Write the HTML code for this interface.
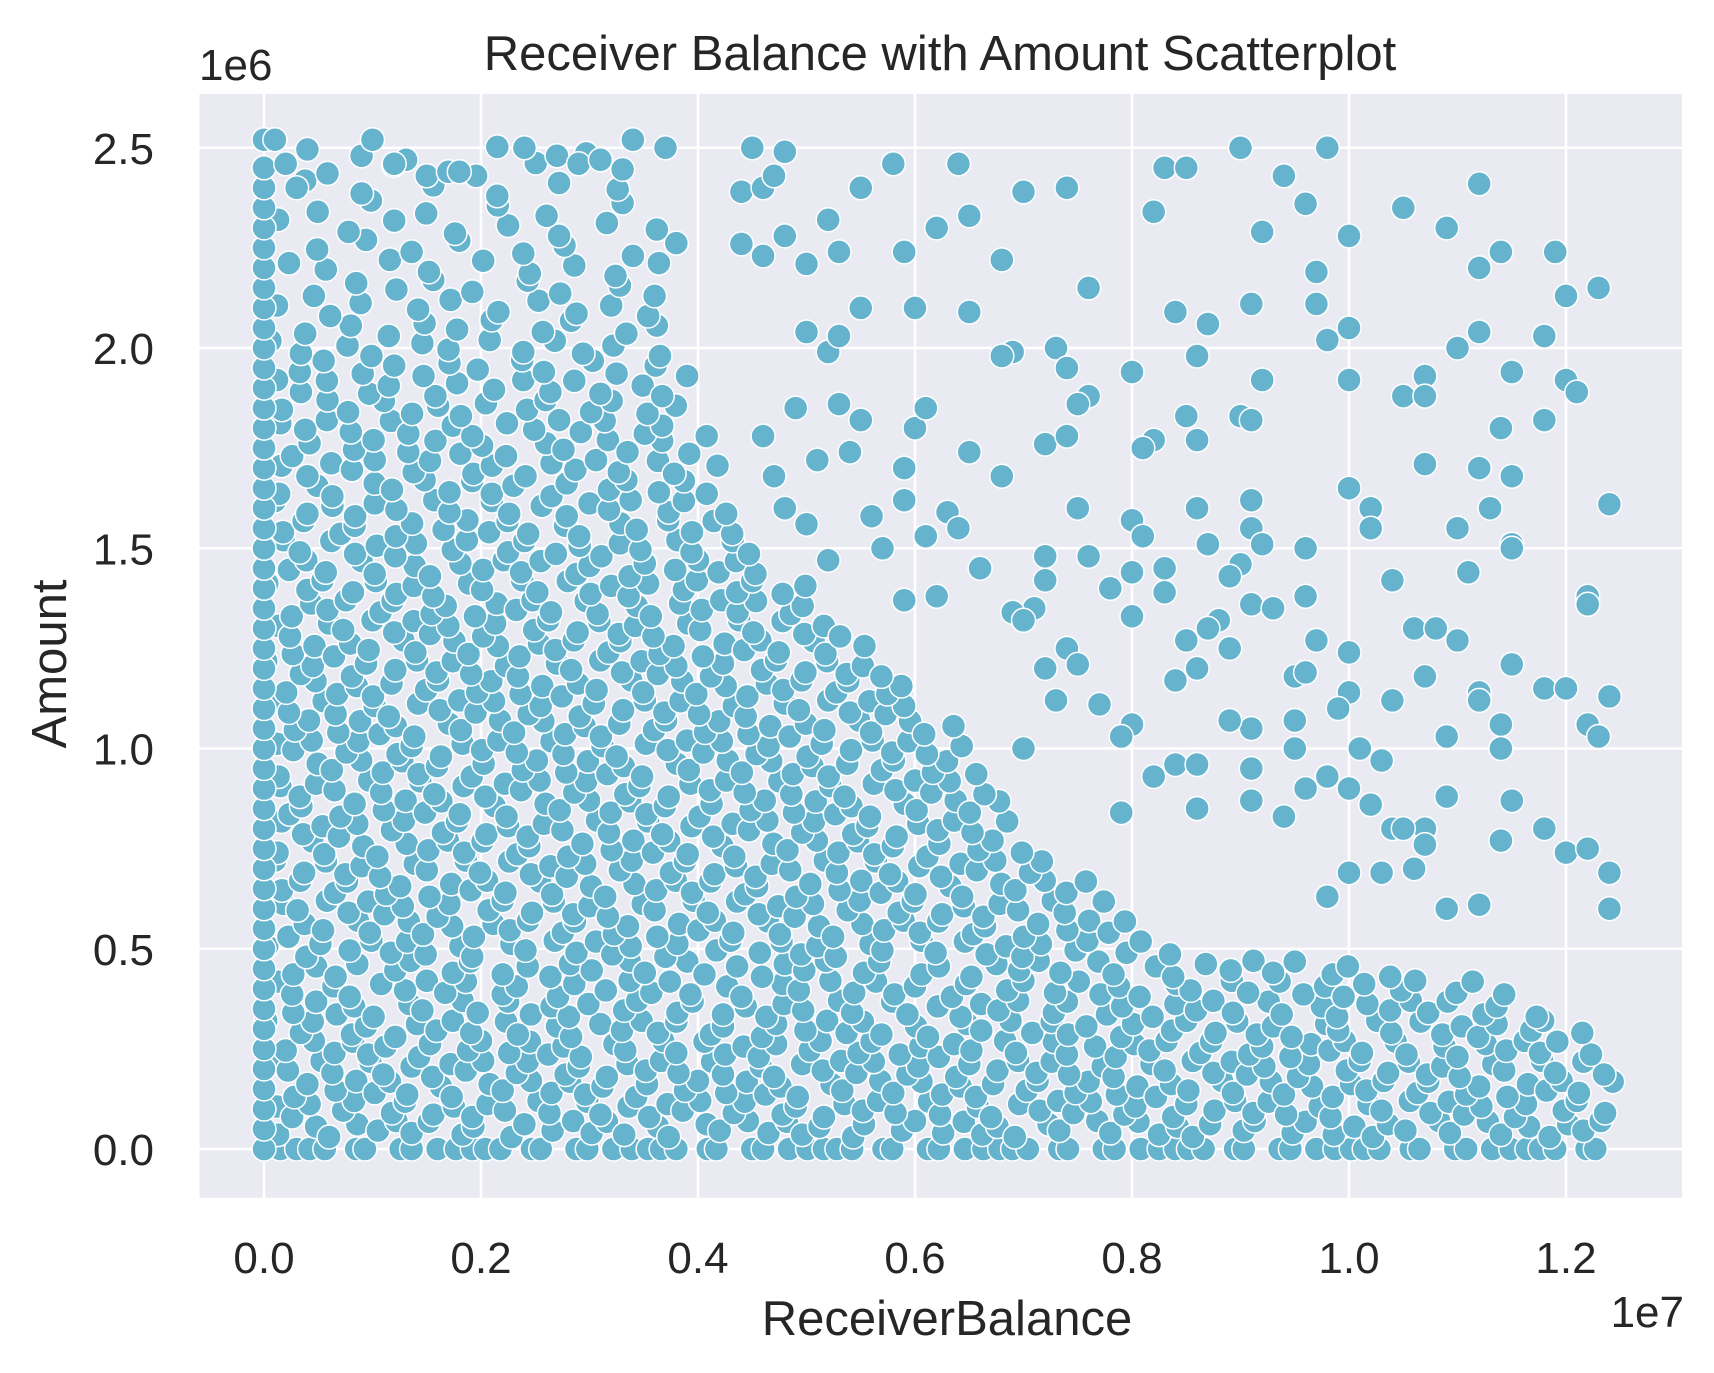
<!DOCTYPE html>
<html><head><meta charset="utf-8"><style>
html,body{margin:0;padding:0;background:#fff;}
svg{display:block;font-family:"Liberation Sans",Arial,sans-serif;}
</style></head><body>
<svg id="chart" width="1714" height="1373" viewBox="0 0 1714 1373" xmlns="http://www.w3.org/2000/svg">
<rect x="199.5" y="94" width="1482.5" height="1103.7" fill="#eaeaf2"/>
<g id="grid"></g>
<g id="points"></g>
<g id="ticks" fill="#262626" font-size="44"></g>
<text x="940" y="70" text-anchor="middle" font-size="49" fill="#262626">Receiver Balance with Amount Scatterplot</text>
<text x="947" y="1335" text-anchor="middle" font-size="49" fill="#262626">ReceiverBalance</text>
<text x="66" y="664" text-anchor="middle" font-size="49" fill="#262626" transform="rotate(-90 66 664)">Amount</text>
<text x="199" y="80" font-size="44" fill="#262626">1e6</text>
<text x="1684" y="1327" text-anchor="end" font-size="44" fill="#262626">1e7</text>
</svg>
<script>
// data in units of 1e6
const xTicks = [0, 0.2, 0.4, 0.6, 0.8, 1.0, 1.2];
const xTickLabels = ["0.0","0.2","0.4","0.6","0.8","1.0","1.2"];
const yTicks = [0, 0.5, 1.0, 1.5, 2.0, 2.5];
const yTickLabels = ["0.0","0.5","1.0","1.5","2.0","2.5"];
// dense cloud rows: [amount, balanceStart, balanceEnd, spacing]
const cloudRows = [
[0.0,0.1,12.5,0.18],[0.05,0.1,12.4,0.2],[0.1,0.1,12.4,0.2],[0.15,0.1,12.4,0.2],[0.2,0.1,12.3,0.2],
[0.25,0.1,12.2,0.2],[0.3,0.1,12.1,0.21],[0.35,0.1,11.8,0.22],[0.4,0.1,11.5,0.23],[0.45,0.1,10.5,0.24],
[0.5,0.1,8.4,0.21],[0.55,0.1,8.0,0.21],[0.6,0.1,7.8,0.21],[0.65,0.1,7.6,0.21],
[0.7,0.1,7.3,0.21],[0.75,0.1,7.1,0.21],[0.8,0.1,7.0,0.21],[0.85,0.1,6.9,0.21],[0.9,0.1,6.8,0.21],
[0.95,0.1,6.6,0.21],[1.0,0.1,6.5,0.21],[1.05,0.1,6.3,0.21],[1.1,0.1,6.1,0.21],
[1.15,0.1,6.0,0.21],[1.2,0.1,5.8,0.21],[1.25,0.1,5.6,0.21],[1.3,0.1,5.4,0.21],
[1.35,0.1,5.2,0.21],[1.4,0.1,5.0,0.22],[1.45,0.1,4.8,0.22],
[1.5,0.1,4.6,0.23],[1.55,0.1,4.5,0.23],[1.6,0.1,4.4,0.24],[1.65,0.1,4.3,0.24],
[1.7,0.1,4.2,0.25],[1.75,0.1,4.1,0.26],[1.8,0.1,4.0,0.26],[1.85,0.1,3.95,0.27],
[1.9,0.1,3.9,0.28],[1.95,0.1,3.9,0.3],[2.0,0.1,3.9,0.32],
[2.05,0.2,3.9,0.36],[2.1,0.2,3.9,0.38],[2.15,0.2,3.8,0.4],[2.2,0.2,3.8,0.44],
[2.25,0.2,3.8,0.48],[2.3,0.2,3.7,0.5],[2.35,0.2,3.7,0.55],
[2.4,0.3,3.6,0.6],[2.45,0.3,3.5,0.65],[2.49,0.4,3.5,0.85]
];
// points at zero balance
const zeroBalanceAmounts = [0,0.05,0.1,0.15,0.2,0.25,0.3,0.35,0.4,0.45,0.5,0.55,0.6,0.65,0.7,0.75,0.8,0.85,0.9,0.95,1.0,1.05,1.1,1.15,1.2,1.25,1.3,1.35,1.4,1.45,1.5,1.55,1.6,1.65,1.7,1.75,1.8,1.85,1.9,1.95,2.0,2.05,2.1,2.15,2.2,2.25,2.3,2.35,2.4,2.45,2.52];
// sparse outliers
const outBalance = [9.0,9.8,9.4,11.2,7.4,5.8,6.4,10.5,9.6,8.2,7.0,8.3,8.5,9.2,10.0,10.9,11.4,11.9,11.2,5.9,6.2,6.5,6.8,9.7,12.3,7.6,12.0,9.1,9.7,8.4,6.0,6.5,8.7,10.0,11.2,11.8,11.0,9.8,7.3,6.9,6.8,7.4,8.0,8.6,11.5,10.0,12.0,10.7,9.2,12.1,10.5,10.7,7.6,7.5,8.5,9.0,9.1,11.8,11.4,8.2,8.1,7.2,7.4,8.6,6.8,10.7,11.2,11.5,10.0,9.1,12.4,10.2,11.3,7.5,8.6,9.1,10.2,11.0,8.0,8.1,8.7,9.2,11.5,11.5,9.6,7.2,7.6,9.0,8.0,8.3,8.9,11.1,10.4,7.2,8.3,9.6,7.8,9.1,12.2,12.2,7.1,6.9,7.0,8.0,8.8,9.3,8.7,10.6,10.8,8.5,8.9,9.7,11.0,10.0,7.4,8.6,9.5,11.5,7.5,7.2,9.6,8.4,10.4,10.7,11.2,11.8,12.0,12.4,10.0,7.3,7.7,9.9,11.2,9.1,9.5,8.0,8.9,10.9,11.4,12.2,12.3,11.4,7.0,7.9,10.1,9.5,10.3,8.2,8.4,8.6,9.1,9.8,10.0,10.2,9.6,10.9,11.5,8.6,9.1,9.4,7.9,10.4,10.7,10.5,11.8,10.7,11.4,12.0,12.2,12.4,10.0,10.3,10.6,9.8,11.2,10.9,12.4,0.3,0.9,1.0,1.2,1.5,1.7,1.8,2.4,2.7,2.9,3.1,3.4,3.7,4.5,4.8,0.1,0.2,
4.4,4.6,4.7,4.4,4.6,4.8,5.0,5.2,5.3,5.5,5.0,5.2,5.3,5.5,4.9,5.3,5.1,5.4,5.5,5.9,5.9,6.0,6.1,6.3,6.1,6.5,5.6,5.7,5.2,5.0,6.4,6.6,6.2,5.9,4.7,4.8,4.6];
const outAmount = [2.5,2.5,2.43,2.41,2.4,2.46,2.46,2.35,2.36,2.34,2.39,2.45,2.45,2.29,2.28,2.3,2.24,2.24,2.2,2.24,2.3,2.33,2.22,2.19,2.15,2.15,2.13,2.11,2.11,2.09,2.1,2.09,2.06,2.05,2.04,2.03,2.0,2.02,2.0,1.99,1.98,1.95,1.94,1.98,1.94,1.92,1.92,1.93,1.92,1.89,1.88,1.88,1.88,1.86,1.83,1.83,1.82,1.82,1.8,1.77,1.75,1.76,1.78,1.77,1.68,1.71,1.7,1.68,1.65,1.62,1.61,1.6,1.6,1.6,1.6,1.55,1.55,1.55,1.57,1.53,1.51,1.51,1.51,1.5,1.5,1.48,1.48,1.46,1.44,1.45,1.43,1.44,1.42,1.42,1.39,1.38,1.4,1.36,1.38,1.36,1.35,1.34,1.32,1.33,1.32,1.35,1.3,1.3,1.3,1.27,1.25,1.27,1.27,1.24,1.25,1.2,1.18,1.21,1.21,1.2,1.19,1.17,1.12,1.18,1.14,1.15,1.15,1.13,1.14,1.12,1.11,1.1,1.12,1.05,1.07,1.06,1.07,1.03,1.06,1.06,1.03,1.0,1.0,1.03,1.0,1.0,0.97,0.93,0.96,0.96,0.95,0.93,0.9,0.86,0.9,0.88,0.87,0.85,0.87,0.83,0.84,0.8,0.8,0.8,0.8,0.76,0.77,0.74,0.75,0.69,0.69,0.69,0.7,0.63,0.61,0.6,0.6,2.4,2.48,2.52,2.46,2.43,2.44,2.44,2.5,2.48,2.46,2.47,2.52,2.5,2.5,2.49,2.52,2.46,
2.39,2.4,2.43,2.26,2.23,2.28,2.21,2.32,2.24,2.4,2.04,1.99,2.03,2.1,1.85,1.86,1.72,1.74,1.82,1.7,1.62,1.8,1.85,1.59,1.53,1.74,1.58,1.5,1.47,1.56,1.55,1.45,1.38,1.37,1.68,1.6,1.78];

const NS = "http://www.w3.org/2000/svg";
const X0 = 264, XPER = 108.5; // px per 1e6 balance
const Y0 = 1149, YPER = 400.5; // px per 1e6 amount
function xScale(v){ return X0 + v * XPER; }
function yScale(v){ return Y0 - v * YPER; }

const grid = document.getElementById('grid');
const ticks = document.getElementById('ticks');
xTicks.forEach((t,i)=>{
  const px = xScale(t*10);
  const l = document.createElementNS(NS,'line');
  
  
  l.setAttribute('x1',px); l.setAttribute('x2',px);
  l.setAttribute('y1',94); l.setAttribute('y2',1197.7);
  l.setAttribute('stroke','#fff'); l.setAttribute('stroke-width','2.6');
  grid.appendChild(l);
  const tx = document.createElementNS(NS,'text');
  
  
  tx.setAttribute('x',px); tx.setAttribute('y',1273);
  tx.setAttribute('text-anchor','middle');
  tx.textContent = xTickLabels[i];
  ticks.appendChild(tx);
});
yTicks.forEach((t,i)=>{
  const py = yScale(t);
  const l = document.createElementNS(NS,'line');
  
  
  l.setAttribute('x1',199.5); l.setAttribute('x2',1682);
  l.setAttribute('y1',py); l.setAttribute('y2',py);
  l.setAttribute('stroke','#fff'); l.setAttribute('stroke-width','2.6');
  grid.appendChild(l);
  const tx = document.createElementNS(NS,'text');
  
  
  tx.setAttribute('x',154); tx.setAttribute('y',py+16);
  tx.setAttribute('text-anchor','end');
  tx.textContent = yTickLabels[i];
  ticks.appendChild(tx);
});

const pts = document.getElementById('points');
function dot(b,a){
  const c = document.createElementNS(NS,'circle');
  
  
  c.setAttribute('cx',xScale(b).toFixed(1));
  c.setAttribute('cy',yScale(a).toFixed(1));
  c.setAttribute('r','12');
  c.setAttribute('fill','#66b3cd');
  c.setAttribute('stroke','#ffffff');
  c.setAttribute('stroke-width','1.5');
  pts.appendChild(c);
}
const jitterA = [0.018,-0.014,0.006,-0.02,0.012,-0.004,0.02,-0.01];
const jitterB = [0.05,-0.07,0.02,0.08,-0.04,0.0,-0.08,0.06,0.03];
cloudRows.forEach((row,ri)=>{
  const [a,s,e,step] = row;
  let k = 0;
  for(let b = s + (ri%2)*step/2; b <= e; b += step){
    const da = a===0 ? 0 : jitterA[(k+ri)%jitterA.length];
    const db = jitterB[(k*2+ri)%jitterB.length];
    dot(Math.min(12.5,Math.max(0.02,b+db)), Math.max(0, a + da));
    k++;
  }
});
zeroBalanceAmounts.forEach(a=>dot(0,a));
outBalance.forEach((b,i)=>dot(b,outAmount[i]));
</script>
</body></html>
